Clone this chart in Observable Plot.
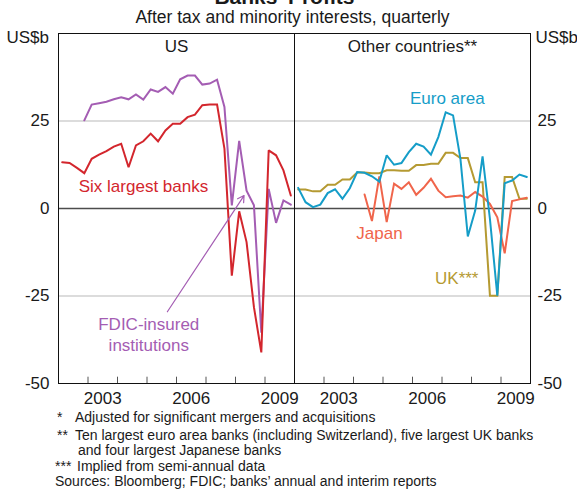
<!DOCTYPE html>
<html>
<head>
<meta charset="utf-8">
<script src="https://cdn.jsdelivr.net/npm/d3@7"></script>
<script src="https://cdn.jsdelivr.net/npm/@observablehq/plot@0.6"></script>
<style>
  html, body { margin: 0; padding: 0; background: #fff; }
  #wrap { position: relative; width: 577px; height: 490px; overflow: hidden;
          font-family: Arial, "Liberation Sans", Helvetica, sans-serif; color: #1a1a1a; }
  #wrap svg { position: absolute; left: 0; top: 0; }
  .abs { position: absolute; white-space: nowrap; }
  #title { top: -13px; left: 0; width: 577px; text-align: center; font-weight: bold; font-size: 21px; line-height: 20px; }
  #subtitle { top: 8px; left: 0; width: 585px; text-align: center; font-size: 17.5px; line-height: 19px; }
  .fn { font-size: 14px; line-height: 16px; }
</style>
</head>
<body>
<div id="wrap">
  <div id="chart"></div>
  <div class="abs" id="title">Banks’ Profits*</div>
  <div class="abs" id="subtitle">After tax and minority interests, quarterly</div>
  <div class="abs fn" style="left:57px; top:409px;">*</div>
  <div class="abs fn" style="left:75px; top:409px;">Adjusted for significant mergers and acquisitions</div>
  <div class="abs fn" style="left:57px; top:427px;">**</div>
  <div class="abs fn" style="left:75px; top:427px;">Ten largest euro area banks (including Switzerland), five largest UK banks</div>
  <div class="abs fn" style="left:78px; top:442px;">and four largest Japanese banks</div>
  <div class="abs fn" style="left:55px; top:458px;">***</div>
  <div class="abs fn" style="left:77px; top:458px;">Implied from semi-annual data</div>
  <div class="abs fn" style="left:55px; top:473px;">Sources: Bloomberg; FDIC; banks’ annual and interim reports</div>
</div>
<script>
// ---- Data (US$b, quarterly) ----
const panels = ["US", "Other countries**"];
const yTicks = [-50, -25, 0, 25];
const yearLabels = [2003, 2006, 2009];
const yearBoundaries = [2002, 2003, 2004, 2005, 2006, 2007, 2008, 2009, 2010];

// US panel
const sixLargestStart = "2002 Q1";
const sixLargest = [13.2, 13.0, 11.6, 10.1, 14.2, 15.4, 16.4, 17.7, 18.5, 11.8, 18.0, 19.2,
  21.4, 19.2, 22.3, 24.2, 24.2, 26.1, 26.8, 29.5, 29.7, 29.7, 17.1, -19.2, -0.8, -9.6,
  -28.2, -41.1, 16.6, 15.2, 10.9, 3.7];
const fdicStart = "2002 Q4";
const fdic = [25.2, 29.7, 30.1, 30.5, 31.2, 31.8, 31.2, 32.6, 31.1, 34.0, 33.3, 34.7, 32.8,
  36.9, 38.0, 38.0, 35.4, 35.7, 36.8, 29.0, 0.9, 19.3, 5.1, 0.9, -35.5, 5.6, -4.1, 2.3, 1.1];

// Other countries panel
const euroStart = "2002 Q1";
const euro = [5.9, 1.8, 0.4, 1.1, 4.4, 5.5, 2.8, 5.8, 10.4, 10.2, 9.2, 7.7, 15.2, 12.5, 13.0,
  16.1, 18.5, 17.7, 15.4, 20.4, 27.5, 26.6, 14.2, -8.0, -0.6, 14.9, -3.0, -24.9, 7.2, 8.0, 9.7, 9.0];
const ukStart = "2002 Q1";
const uk = [5.4, 5.4, 4.9, 4.9, 6.8, 6.8, 8.3, 8.3, 10.3, 10.3, 10.1, 10.1, 10.9, 10.9, 10.8,
  10.8, 12.4, 12.4, 12.8, 12.8, 15.9, 15.9, 14.4, 14.4, 7.5, 7.5, -24.9, -24.9, 9.0, 9.0, 2.8, 2.8];
const japanStart = "2004 Q2";
const japan = [4.0, -3.6, 9.2, -3.9, 7.1, 5.6, 7.5, 3.9, 5.9, 8.5, 5.1, 3.2, 3.5, 3.7, 3.1,
  4.7, 3.4, 1.3, -2.5, -12.8, 2.1, 2.6, 3.1];

// ---- Build tidy table ----
function quarterTime(start, k) {
  const [y, q] = start.split(" Q").map(Number);
  const idx = (q - 1) + k;
  return y + (idx + 0.5) / 4; // mid-quarter in decimal years
}
function series(name, panel, start, values) {
  return values.map((v, k) => ({name, panel, date: quarterTime(start, k), value: v}));
}
const colors = {
  six: "#d3262d", fdic: "#a45db3", euro: "#159dc8", uk: "#b59a32", japan: "#f0654b"
};
const S = {
  six: series("Six largest banks", panels[0], sixLargestStart, sixLargest),
  fdic: series("FDIC-insured institutions", panels[0], fdicStart, fdic),
  uk: series("UK", panels[1], ukStart, uk),
  japan: series("Japan", panels[1], japanStart, japan),
  euro: series("Euro area", panels[1], euroStart, euro)
};

const lineMark = (key) => Plot.line(S[key], {fx: "panel", x: "date", y: "value",
  stroke: colors[key], strokeWidth: 2, strokeLinejoin: "miter", strokeMiterlimit: 2});
const label = (text, panel, x, y, color, extra = {}) =>
  Plot.text([text], {fx: () => panel, x: () => x, y: () => y, text: d => d,
    fill: color, fontSize: 17, ...extra});

const chart = Plot.plot({
  width: 577,
  height: 410,
  marginLeft: 57,
  marginRight: 47,
  marginTop: 33,
  marginBottom: 27,
  style: {fontFamily: "Arial, 'Liberation Sans', Helvetica, sans-serif", fontSize: "17px", color: "#1a1a1a", background: "transparent"},
  fx: {domain: panels, padding: 0, axis: null},
  x: {domain: [2002, 2010]},
  y: {domain: [-50, 50]},
  marks: [
    Plot.ruleY([-25, 25], {stroke: "#b9b9b9", strokeWidth: 1}),
    Plot.ruleY([0], {stroke: "#4d4d4d", strokeWidth: 1.5}),
    Plot.ruleX(yearBoundaries.slice(1, -1), {x: d => d, y1: -50, y2: -48.2, stroke: "#555", strokeWidth: 1}),
    lineMark("uk"),
    lineMark("japan"),
    lineMark("euro"),
    lineMark("fdic"),
    lineMark("six"),
    Plot.frame({stroke: "#111", strokeWidth: 1}),
    Plot.axisY({anchor: "left", ticks: yTicks, tickSize: 0, tickPadding: 9, fontSize: 17, label: null, tickFormat: d => String(d)}),
    Plot.axisY({anchor: "right", ticks: yTicks, tickSize: 0, tickPadding: 7, fontSize: 17, label: null, tickFormat: d => String(d)}),
    Plot.axisX({anchor: "bottom", ticks: yearLabels.map(y => y + 0.5), tickSize: 0, tickPadding: 8,
      tickFormat: d => String(Math.floor(d)), fontSize: 17, label: null}),
    Plot.text(panels, {fx: d => d, text: d => d, frameAnchor: "top", lineAnchor: "top", dy: 6, fontSize: 17, fill: "#1a1a1a"}),
    Plot.text(["US$b"], {fx: () => panels[0], frameAnchor: "top-left", lineAnchor: "top", dx: -52, dy: -3, textAnchor: "start", fontSize: 17, fill: "#1a1a1a"}),
    Plot.text(["US$b"], {fx: () => panels[1], frameAnchor: "top-right", lineAnchor: "top", dx: 5, dy: -3, textAnchor: "start", fontSize: 17, fill: "#1a1a1a"}),
    label("Six largest banks", panels[0], 2004.88, 6.3, colors.six),
    label("FDIC-insured\ninstitutions", panels[0], 2005.06, -35.8, colors.fdic, {lineHeight: 1.2}),
    Plot.arrow([0], {fx: () => panels[0], x1: () => 2005.69, y1: () => -29.5, x2: () => 2008.29, y2: () => 3.7,
      stroke: colors.fdic, strokeWidth: 1.2, headLength: 9}),
    label("Euro area", panels[1], 2007.18, 31.4, colors.euro),
    label("Japan", panels[1], 2004.88, -7.2, colors.japan),
    label("UK***", panels[1], 2007.5, -20.1, colors.uk)
  ]
});
document.getElementById("chart").appendChild(chart);
</script>
</body>
</html>
